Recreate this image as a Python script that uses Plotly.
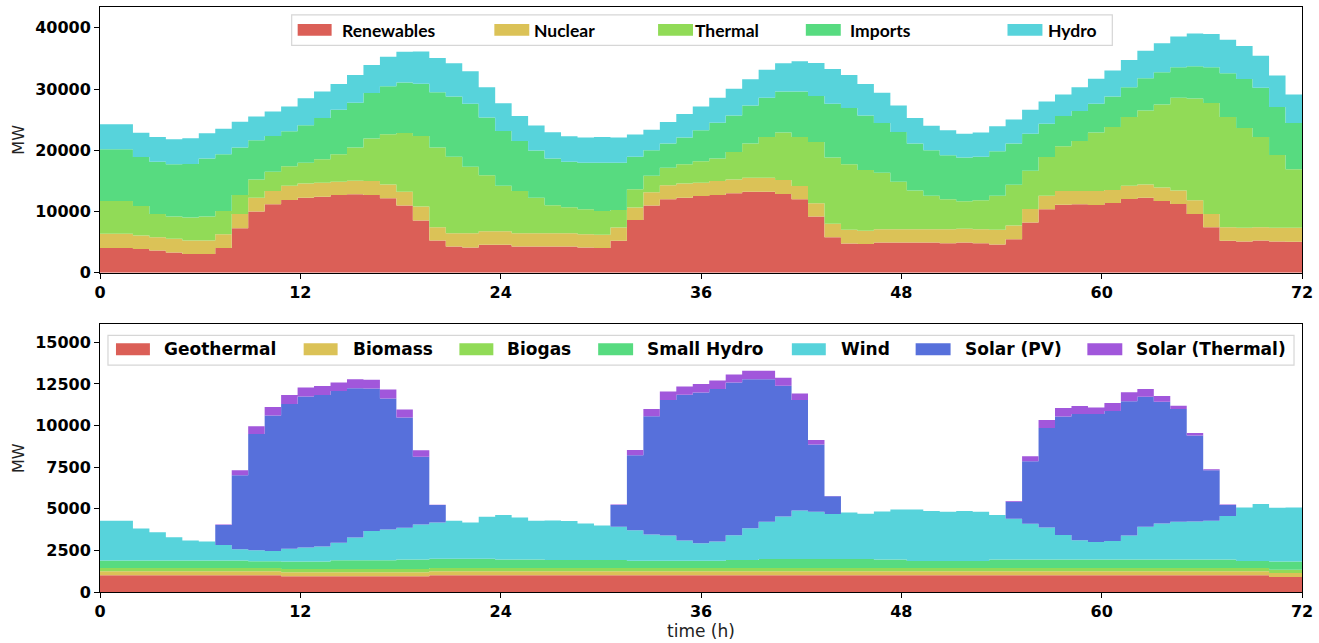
import numpy as np
import plotly.graph_objects as go

# ---------------- data (MW, one value per step, 73 steps over 0-72 h) ----------------
renewables = [4010, 4010, 3850, 3630, 3310, 3040, 3040, 4010, 7260, 9970,
              11170, 11870, 12250, 12410, 12680, 12790, 12680, 12140, 10950, 8510,
              5260, 4280, 4120, 4550, 4550, 4280, 4280, 4280, 4280, 4120,
              4010, 5200, 8620, 10950, 11980, 12250, 12520, 12680, 12950, 13230,
              13230, 12850, 11980, 9160, 5800, 4770, 4660, 4930, 4930, 4930,
              4930, 4820, 4930, 4820, 4610, 5470, 8180, 10350, 11110, 11170,
              11060, 11380, 12030, 12250, 11710, 11220, 9590, 7430, 5200, 5100,
              5260, 5100, 5040]
nuclear = [2330, 2330, 2220, 2170, 2220, 2220, 2220, 2280, 2330, 2280,
           2170, 2330, 2330, 2280, 2170, 2220, 2280, 2280, 2280, 2280,
           2170, 2170, 2330, 2220, 2220, 2170, 2170, 2170, 2170, 2170,
           2170, 2170, 2010, 2170, 2280, 2330, 2170, 2280, 2280, 2280,
           2280, 2280, 2170, 2170, 2170, 2220, 2170, 2170, 2170, 2170,
           2170, 2280, 2220, 2280, 2390, 2220, 2220, 2220, 2220, 2170,
           2280, 2110, 2170, 2170, 2220, 2220, 2220, 2170, 2220, 2220,
           2170, 2220, 2280]
thermal = [5370, 5370, 4820, 3790, 3630, 3740, 3900, 3790, 3090, 2980,
           3140, 3200, 3360, 3850, 4500, 5420, 6940, 8180, 9590, 11550,
           13010, 12470, 10840, 9160, 7430, 6880, 5800, 4550, 4230, 4070,
           3900, 2870, 2980, 2710, 2870, 3140, 3520, 3690, 4500, 5580,
           6670, 7750, 8020, 10030, 10840, 10730, 9920, 9210, 7750, 6340,
           5470, 4880, 4500, 4720, 5580, 6670, 6230, 6340, 7320, 8180,
           9540, 10300, 11220, 12090, 13550, 15120, 16640, 18100, 17990, 16310,
           14740, 11920, 9590]
imports = [8460, 8460, 8020, 8510, 8560, 8730, 9490, 9270, 7750, 6400,
           5850, 5690, 6130, 6720, 7260, 7320, 7430, 7860, 8240, 8510,
           9050, 9860, 10300, 9430, 8940, 8180, 7700, 7640, 7430, 7590,
           7860, 7700, 5310, 4170, 3960, 4340, 5040, 5850, 5960, 6230,
           6400, 6720, 7430, 7480, 8780, 9160, 8940, 8130, 8130, 7640,
           7430, 7210, 7150, 7100, 7260, 6720, 6070, 5420, 4930, 4880,
           4720, 4990, 4880, 5260, 5260, 4990, 5260, 5850, 7150, 8020,
           8020, 7810, 7530]
hydro = [4070, 4070, 3960, 4070, 4070, 4230, 4120, 4170, 4230, 3900,
         4010, 4070, 4440, 4340, 4230, 4550, 4610, 4820, 5040, 5260,
         5580, 5420, 5310, 4930, 4550, 4070, 4070, 4280, 4170, 4120,
         4230, 4120, 3630, 3360, 3520, 3850, 3900, 4070, 4340, 4280,
         4550, 4610, 4930, 5420, 5690, 5420, 5150, 4930, 4340, 4170,
         4010, 4070, 3900, 3960, 4070, 3960, 3900, 3630, 3520, 3900,
         4070, 4230, 4440, 4500, 4720, 5040, 5370, 5420, 5470, 5370,
         5260, 5150, 4660]

geothermal = [1000, 1000, 1000, 1000, 1000, 1000, 1000, 1000, 1000, 1000,
              1000, 950, 950, 950, 950, 950, 950, 950, 950, 950,
              1000, 1000, 1000, 1000, 1000, 1000, 1000, 1000, 1000, 1000,
              1000, 1000, 1000, 1000, 1000, 1000, 1000, 1000, 1000, 1000,
              1000, 1000, 1000, 1000, 1000, 1000, 1000, 1000, 1000, 1000,
              1000, 1000, 1000, 1000, 1000, 1000, 1000, 1000, 1000, 1000,
              1000, 1000, 1000, 1000, 1000, 1000, 1000, 1000, 1000, 1000,
              1000, 900, 900]
biomass = [240, 240, 240, 240, 240, 240, 240, 240, 240, 240,
           240, 230, 230, 230, 230, 230, 230, 230, 230, 230,
           240, 240, 240, 240, 240, 240, 240, 240, 240, 240,
           240, 240, 240, 240, 240, 240, 240, 240, 240, 240,
           240, 240, 240, 240, 240, 240, 240, 240, 240, 240,
           240, 240, 240, 240, 240, 240, 240, 240, 240, 240,
           240, 240, 240, 240, 240, 240, 240, 240, 240, 240,
           240, 240, 240]
biogas = [200, 200, 200, 200, 200, 200, 200, 200, 200, 200,
          200, 200, 200, 200, 200, 200, 200, 200, 200, 200,
          200, 200, 200, 200, 200, 200, 200, 200, 200, 200,
          200, 200, 200, 200, 200, 200, 200, 200, 200, 200,
          200, 200, 200, 200, 200, 200, 200, 200, 200, 200,
          200, 200, 200, 200, 200, 200, 200, 200, 200, 200,
          200, 200, 200, 200, 200, 200, 200, 200, 200, 200,
          200, 200, 200]
small_hydro = [450, 450, 450, 450, 450, 450, 450, 450, 450, 400,
               400, 450, 450, 450, 520, 520, 520, 520, 580, 580,
               560, 560, 560, 560, 510, 510, 510, 480, 480, 480,
               480, 480, 430, 430, 430, 430, 430, 430, 490, 490,
               540, 540, 540, 540, 540, 540, 540, 510, 510, 420,
               420, 420, 420, 420, 510, 510, 510, 510, 510, 510,
               510, 510, 510, 510, 510, 510, 510, 510, 510, 420,
               420, 490, 490]
wind = [2390, 2390, 1920, 1700, 1400, 1200, 1140, 940, 680, 670,
        630, 770, 850, 910, 1060, 1380, 1760, 1860, 1900, 2090,
        2180, 2280, 2180, 2520, 2670, 2530, 2330, 2380, 2340, 2200,
        2080, 2000, 1840, 1580, 1520, 1220, 1060, 1160, 1480, 1900,
        2240, 2560, 2920, 2840, 2700, 2800, 2720, 2890, 3010, 3100,
        3000, 2960, 3000, 2960, 2670, 2450, 2150, 1930, 1480, 1160,
        1060, 1120, 1440, 1970, 2170, 2270, 2290, 2330, 2610, 3220,
        3420, 3230, 3250]
solar_pv = [0, 0, 0, 0, 0, 0, 0, 1200, 4440, 6990,
            8130, 8700, 9060, 9100, 9120, 8960, 8570, 7870, 6630, 4080,
            1040, 0, 0, 0, 0, 0, 0, 0, 0, 0,
            0, 1300, 4500, 7110, 8150, 8760, 9060, 9160, 9180, 8960,
            8570, 7850, 6630, 4040, 1080, 0, 0, 0, 0, 0,
            0, 0, 0, 0, 0, 1020, 3760, 5980, 7110, 7590,
            7690, 7810, 8070, 7810, 7310, 6770, 5160, 3030, 660, 0,
            0, 0, 0]
solar_thermal = [0, 0, 0, 0, 0, 0, 0, 20, 300, 460,
                 520, 540, 540, 540, 500, 540, 520, 540, 480, 380,
                 20, 0, 0, 0, 0, 0, 0, 0, 0, 0,
                 0, 40, 320, 440, 500, 500, 500, 520, 480, 500,
                 500, 480, 400, 280, 10, 0, 0, 0, 0, 0,
                 0, 0, 0, 0, 0, 40, 300, 480, 520, 480,
                 380, 480, 540, 460, 340, 200, 160, 60, 40, 0,
                 0, 0, 0]

top_series = [("Renewables", renewables), ("Nuclear", nuclear), ("Thermal", thermal),
              ("Imports", imports), ("Hydro", hydro)]
bottom_series = [("Geothermal", geothermal), ("Biomass", biomass), ("Biogas", biogas),
                 ("Small Hydro", small_hydro), ("Wind", wind), ("Solar (PV)", solar_pv),
                 ("Solar (Thermal)", solar_thermal)]

x_ticks = [0, 12, 24, 36, 48, 60, 72]
x_ticktext = ["0", "12", "24", "36", "48", "60", "72"]
top_yticks = [0, 10000, 20000, 30000, 40000]
top_yticktext = ["0", "10000", "20000", "30000", "40000"]
bot_yticks = [0, 2500, 5000, 7500, 10000, 12500, 15000]
bot_yticktext = ["0", "2500", "5000", "7500", "10000", "12500", "15000"]

palette = ["#db5f57", "#dbc257", "#91db57", "#57db80", "#57d3db", "#5770db", "#a157db"]

# ---------------- layout geometry ----------------
W, H = 1319, 643
L, R, T, B = 100, 1304, 6, 594
TOP_BOTTOM_PX = 273
BOT_TOP_PX = 325


def fx(p):
    return (p - L) / (R - L)


def fy(p):
    return (B - p) / (B - T)


n_steps = len(renewables)
edges = np.linspace(0, 72, n_steps + 1)

fig = go.Figure()


def add_stack(series, xaxis, yaxis):
    cum = np.zeros(n_steps)
    for i, (name, vals) in enumerate(series):
        cum = cum + np.array(vals, dtype=float)
        yv = list(cum) + [cum[-1]]
        fig.add_trace(go.Scatter(
            x=edges, y=yv, mode="lines", line=dict(width=0, shape="hv", color=palette[i]),
            fill="tozeroy" if i == 0 else "tonexty", fillcolor=palette[i],
            name=name, showlegend=False, xaxis=xaxis, yaxis=yaxis, hoverinfo="skip"))


add_stack(top_series, "x", "y")
add_stack(bottom_series, "x2", "y2")

tickfont = dict(family="DejaVu Sans", size=16, color="black", weight="bold")
axis_common = dict(showline=True, mirror=True, linecolor="black", linewidth=1,
                   ticks="outside", ticklen=5, tickwidth=1, tickcolor="black",
                   showgrid=False, zeroline=False, tickfont=tickfont)
mw_font = dict(family="DejaVu Sans", size=16, color="#222")

fig.update_layout(
    width=W, height=H,
    margin=dict(l=L, r=W - R, t=T, b=H - B),
    plot_bgcolor="white", paper_bgcolor="white",
    xaxis=dict(domain=[0, 1], range=[0, 72], anchor="y", tickvals=x_ticks, ticktext=x_ticktext,
               **axis_common),
    yaxis=dict(domain=[fy(TOP_BOTTOM_PX), 1], range=[0, 43400], anchor="x",
               tickvals=top_yticks, ticktext=top_yticktext,
               title=dict(text="MW", font=mw_font, standoff=6),
               **axis_common),
    xaxis2=dict(domain=[0, 1], range=[0, 72], anchor="y2", tickvals=x_ticks, ticktext=x_ticktext,
                title=dict(text="time (h)", font=dict(family="DejaVu Sans", size=17, color="#222"), standoff=4),
                **axis_common),
    yaxis2=dict(domain=[0, fy(BOT_TOP_PX)], range=[0, 16080], anchor="x2",
                tickvals=bot_yticks, ticktext=bot_yticktext,
                title=dict(text="MW", font=mw_font, standoff=6),
                **axis_common),
)

shapes = []
annotations = []


def legend_box(x0, x1, y0, y1):
    shapes.append(dict(type="rect", xref="paper", yref="paper", x0=fx(x0), x1=fx(x1),
                       y0=fy(y1), y1=fy(y0), line=dict(color="#d6d6d6", width=1.2),
                       fillcolor="rgba(255,255,255,0.85)", layer="above"))


def legend_item(px0, px1, py0, py1, tx, ty, color, text, font):
    shapes.append(dict(type="rect", xref="paper", yref="paper", x0=fx(px0), x1=fx(px1),
                       y0=fy(py1), y1=fy(py0), line=dict(width=0), fillcolor=color, layer="above"))
    annotations.append(dict(xref="paper", yref="paper", x=fx(tx), y=fy(ty), text=text,
                            showarrow=False, xanchor="left", yanchor="middle", font=font,
                            borderpad=0))


# top legend
legend_box(292, 1114, 14, 44.5)
top_font = dict(family="Lato", size=17.5, color="black", weight="bold")
top_patch_x = [(298, 332), (495, 530), (659, 694), (807, 842), (1009, 1044)]
top_text_x = [341, 534, 695, 850, 1049]
for i, (name, _) in enumerate(top_series):
    legend_item(top_patch_x[i][0], top_patch_x[i][1], 23, 35, top_text_x[i], 30,
                palette[i], name, top_font)

# bottom legend
legend_box(108, 1296, 336, 366)
bot_font = dict(family="DejaVu Sans", size=17, color="black", weight="bold")
bot_patch_x = [(116, 150), (304, 338), (460, 494), (599, 634), (793, 827), (917, 952), (1089, 1124)]
bot_text_x = [163, 352, 507, 647, 841, 965, 1137]
for i, (name, _) in enumerate(bottom_series):
    legend_item(bot_patch_x[i][0], bot_patch_x[i][1], 344, 356, bot_text_x[i], 350,
                palette[i], name, bot_font)

fig.update_layout(shapes=shapes, annotations=annotations)

fig.write_html("out.html")
